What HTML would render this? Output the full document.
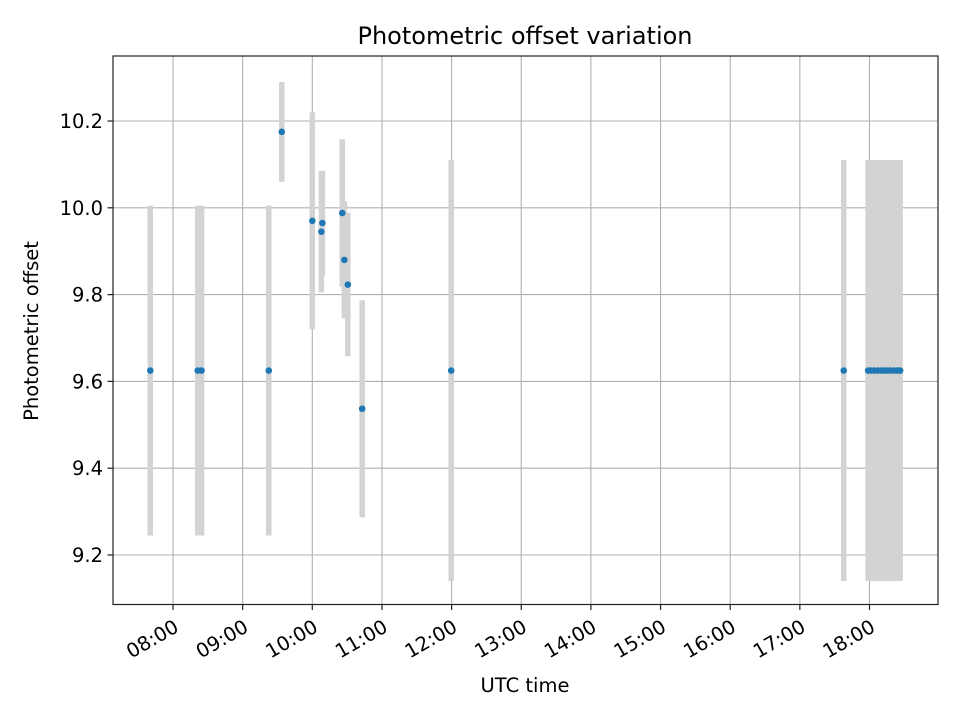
<!DOCTYPE html>
<html><head><meta charset="utf-8"><style>body{margin:0;background:#fff}svg{display:block;font-family:"DejaVu Sans","Liberation Sans",sans-serif}</style></head>
<body>
<svg id="chart" width="960" height="720" viewBox="0 0 960 720">
<rect x="0" y="0" width="960" height="720" fill="#fff"/>
<text x="525" y="44" font-size="24" text-anchor="middle">Photometric offset variation</text>
<text x="525" y="692" font-size="19.5" text-anchor="middle">UTC time</text>
<text x="38" y="331" font-size="19.5" text-anchor="middle" transform="rotate(-90 38 331)">Photometric offset</text>
<g id="grid"></g>
<g id="errs"></g>
<g id="pts"></g>
<g id="ticks"></g>
<rect x="113" y="56" width="825" height="548.5" fill="none" stroke="#222" stroke-width="1.2"/>
</svg>
<script>
const xTickHours = [8,9,10,11,12,13,14,15,16,17,18];
const xTickLabels = ["08:00","09:00","10:00","11:00","12:00","13:00","14:00","15:00","16:00","17:00","18:00"];
const yTicks = [9.2,9.4,9.6,9.8,10.0,10.2];
const yTickLabels = ["9.2","9.4","9.6","9.8","10.0","10.2"];
const timesH = [7.674,8.355,8.41,9.375,9.562,10.0,10.13,10.145,10.43,10.46,10.51,10.716,11.994,17.63,17.98,18.02,18.07,18.12,18.17,18.21,18.26,18.3,18.35,18.4,18.44];
const offsets = [9.625,9.625,9.625,9.625,10.175,9.97,9.945,9.965,9.988,9.88,9.823,9.537,9.625,9.625,9.625,9.625,9.625,9.625,9.625,9.625,9.625,9.625,9.625,9.625,9.625];
const errors = [0.38,0.38,0.38,0.38,0.115,0.25,0.14,0.12,0.17,0.135,0.165,0.25,0.485,0.485,0.485,0.485,0.485,0.485,0.485,0.485,0.485,0.485,0.485,0.485,0.485];
const NS="http://www.w3.org/2000/svg";
const xs = h => 173 + (h-8)*69.65;
const ys = v => 121 + (10.2-v)*434;
function mk(tag, attrs, parent){const e=document.createElementNS(NS,tag);for(const k in attrs)e.setAttribute(k,attrs[k]);parent.appendChild(e);return e;}
const grid=document.getElementById('grid'),ticks=document.getElementById('ticks'),errs=document.getElementById('errs'),pts=document.getElementById('pts');
xTickHours.forEach((h,i)=>{const x=xs(h);
 const g=mk('line',{x1:x,x2:x,y1:56,y2:604.5,stroke:'#b0b0b0','stroke-width':1.1},grid);
 
 
 const t=mk('line',{x1:x,x2:x,y1:604.5,y2:610,stroke:'#222','stroke-width':1.2},ticks);
 
 
 const lb=mk('text',{x:x+2,y:632,'font-size':19.5,'text-anchor':'end',transform:`rotate(-30 ${x+2} 622)`},ticks);
 lb.textContent=xTickLabels[i];
 
 
});
yTicks.forEach((v,i)=>{const y=ys(v);
 const g=mk('line',{x1:113,x2:938,y1:y,y2:y,stroke:'#b0b0b0','stroke-width':1.1},grid);
 
 
 const t=mk('line',{x1:107.5,x2:113,y1:y,y2:y,stroke:'#222','stroke-width':1.2},ticks);
 
 
 const lb=mk('text',{x:103,y:y+7,'font-size':19.5,'text-anchor':'end'},ticks);
 lb.textContent=yTickLabels[i];
 
 
});
timesH.forEach((h,i)=>{const x=xs(h);
 const e=mk('line',{x1:x,x2:x,y1:ys(offsets[i]+errors[i]),y2:ys(offsets[i]-errors[i]),stroke:'#d3d3d3','stroke-width':5.5},errs);
 
 
 const c=mk('circle',{cx:x,cy:ys(offsets[i]),r:3.3,fill:'#1f77b4'},pts);
 
 
});
</script>
</body></html>
